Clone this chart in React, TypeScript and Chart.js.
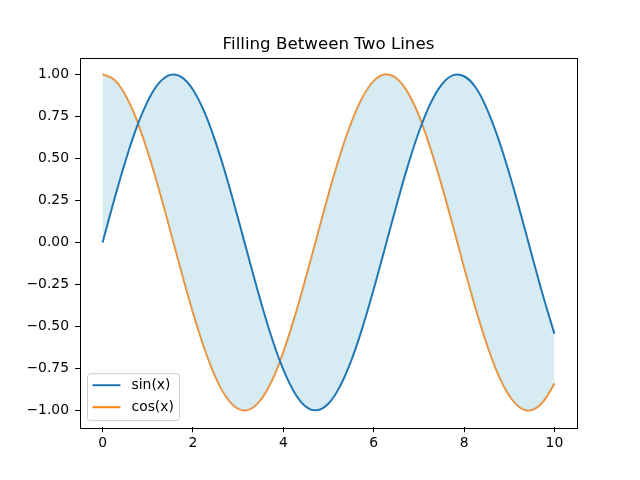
import { useEffect, useRef } from 'react';
import { Chart, ChartConfiguration, Plugin, registerables } from 'chart.js';

Chart.register(...registerables);

// sample positions along x
const xValues = [
  0, 0.25, 0.5, 0.75, 1, 1.25, 1.5, 1.75, 2, 2.25, 2.5, 2.75, 3, 3.25, 3.5, 3.75,
  4, 4.25, 4.5, 4.75, 5, 5.25, 5.5, 5.75, 6, 6.25, 6.5, 6.75, 7, 7.25, 7.5, 7.75,
  8, 8.25, 8.5, 8.75, 9, 9.25, 9.5, 9.75, 10,
];

const sinValues = [
  0, 0.247, 0.479, 0.682, 0.841, 0.949, 0.997, 0.984, 0.909, 0.778, 0.598, 0.382,
  0.141, -0.108, -0.351, -0.572, -0.757, -0.895, -0.978, -0.999, -0.959, -0.859,
  -0.706, -0.508, -0.279, -0.033, 0.215, 0.451, 0.657, 0.823, 0.938, 0.994, 0.989,
  0.925, 0.798, 0.624, 0.412, 0.174, -0.075, -0.319, -0.544,
];

const cosValues = [
  1, 0.969, 0.878, 0.732, 0.54, 0.315, 0.071, -0.178, -0.416, -0.628, -0.801, -0.924,
  -0.99, -0.994, -0.936, -0.82, -0.654, -0.446, -0.211, 0.037, 0.284, 0.513, 0.709,
  0.861, 0.96, 0.999, 0.977, 0.893, 0.754, 0.567, 0.347, 0.105, -0.146, -0.386,
  -0.602, -0.781, -0.911, -0.985, -0.997, -0.947, -0.839,
];

const xTicks = [0, 2, 4, 6, 8, 10];
const yTicks = [-1, -0.75, -0.5, -0.25, 0, 0.25, 0.5, 0.75, 1];

const seriesNames = ['sin(x)', 'cos(x)'];
const seriesColors = ['#1f77b4', '#ff7f0e'];
const chartTitle = 'Filling Between Two Lines';

const FONT = '"DejaVu Sans", sans-serif';

// frame around the plot area + title centred over it
const framePlugin: Plugin = {
  id: 'frame',
  afterDraw(chart) {
    const { ctx, chartArea: a } = chart;
    ctx.save();
    ctx.strokeStyle = '#000';
    ctx.lineWidth = 1;
    ctx.strokeRect(Math.round(a.left) + 0.5, Math.round(a.top) + 0.5,
      Math.round(a.right - a.left), Math.round(a.bottom - a.top));
    ctx.font = `16.7px ${FONT}`;
    ctx.fillStyle = '#000';
    ctx.textAlign = 'center';
    ctx.textBaseline = 'alphabetic';
    ctx.fillText(chartTitle, (a.left + a.right) / 2, a.top - 8.5);
    ctx.restore();
  },
};

// matplotlib-like legend in the lower left corner
const legendPlugin: Plugin = {
  id: 'mplLegend',
  afterDraw(chart) {
    const { ctx, chartArea: a } = chart;
    const w = 92;
    const h = 47;
    const x = a.left + 7;
    const y = a.bottom - 7 - h;
    ctx.save();
    ctx.beginPath();
    ctx.roundRect(x + 0.5, y + 0.5, w, h, 3);
    ctx.fillStyle = 'rgba(255,255,255,0.8)';
    ctx.fill();
    ctx.strokeStyle = '#cccccc';
    ctx.lineWidth = 1;
    ctx.stroke();
    ctx.font = `13.9px ${FONT}`;
    ctx.textBaseline = 'middle';
    ctx.fillStyle = '#000';
    seriesNames.forEach((name, i) => {
      const cy = y + 12 + i * 22;
      ctx.beginPath();
      ctx.moveTo(x + 5.6, cy);
      ctx.lineTo(x + 33.4, cy);
      ctx.strokeStyle = seriesColors[i];
      ctx.lineWidth = 2;
      ctx.stroke();
      ctx.fillText(name, x + 44.5, cy);
    });
    ctx.restore();
  },
};

export default function App() {
  const canvasRef = useRef<HTMLCanvasElement>(null);
  const chartRef = useRef<Chart | null>(null);

  useEffect(() => {
    if (!canvasRef.current) return;
    if (chartRef.current) chartRef.current.destroy();
    const ctx = canvasRef.current.getContext('2d');
    if (!ctx) return;

    const config: ChartConfiguration = {
      type: 'line',
      data: {
        datasets: [
          {
            label: seriesNames[0],
            data: xValues.map((x, i) => ({ x, y: sinValues[i] })),
            borderColor: seriesColors[0],
            borderWidth: 2,
            pointRadius: 0,
            tension: 0.4,
            fill: '+1',
            backgroundColor: 'rgba(173, 216, 230, 0.5)',
          },
          {
            label: seriesNames[1],
            data: xValues.map((x, i) => ({ x, y: cosValues[i] })),
            borderColor: seriesColors[1],
            borderWidth: 2,
            pointRadius: 0,
            tension: 0.4,
            fill: false,
          },
        ],
      },
      options: {
        animation: false,
        responsive: false,
        maintainAspectRatio: false,
        layout: { padding: { left: 0, right: 63, top: 57.6, bottom: 0 } },
        plugins: {
          legend: { display: false },
          tooltip: { enabled: false },
          title: { display: false },
        },
        scales: {
          x: {
            type: 'linear',
            min: -0.5,
            max: 10.5,
            afterFit: (scale) => { scale.height = 52.8; },
            afterBuildTicks: (scale) => { scale.ticks = xTicks.map((v) => ({ value: v })); },
            grid: { drawOnChartArea: false, drawTicks: true, tickLength: 5, color: '#000', tickWidth: 1 },
            border: { display: false },
            ticks: {
              color: '#000',
              padding: 3,
              maxRotation: 0,
              font: { family: FONT, size: 13.9 },
              callback: (v) => String(v),
            },
          },
          y: {
            type: 'linear',
            min: -1.1,
            max: 1.1,
            afterFit: (scale) => { scale.width = 80; },
            afterBuildTicks: (scale) => { scale.ticks = yTicks.map((v) => ({ value: v })); },
            grid: { drawOnChartArea: false, drawTicks: true, tickLength: 5, color: '#000', tickWidth: 1 },
            border: { display: false },
            ticks: {
              color: '#000',
              padding: 6,
              font: { family: FONT, size: 13.9 },
              callback: (v) => {
                const n = Number(v);
                const s = Math.abs(n).toFixed(2);
                return n < 0 ? '\u2212' + s : s;
              },
            },
          },
        },
      },
      plugins: [framePlugin, legendPlugin],
    };

    chartRef.current = new Chart(ctx, config);

    return () => {
      if (chartRef.current) {
        chartRef.current.destroy();
        chartRef.current = null;
      }
    };
  }, []);

  return (
    <div style={{ position: 'fixed', left: 0, top: 0, width: 640, height: 480, background: '#fff' }}>
      <canvas ref={canvasRef} width={640} height={480} style={{ width: 640, height: 480 }}></canvas>
    </div>
  );
}
